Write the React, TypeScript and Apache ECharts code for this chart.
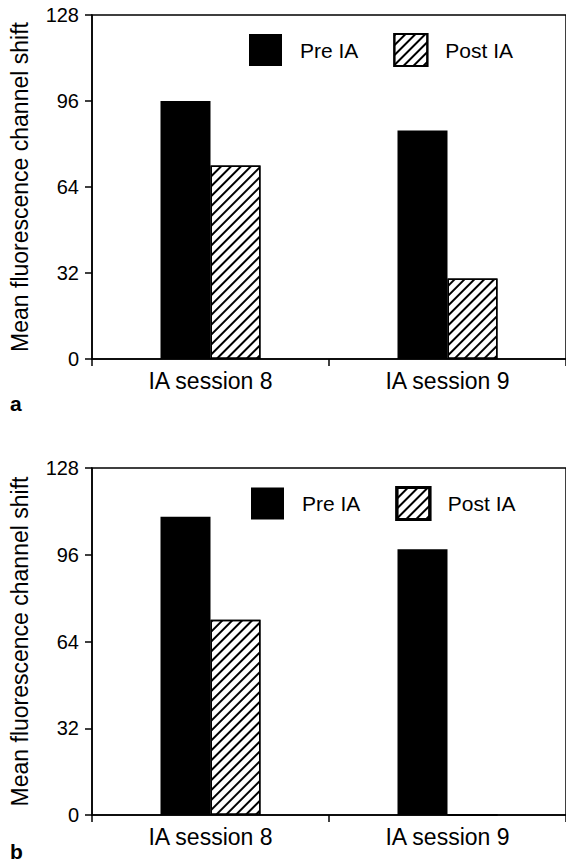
import React, { useEffect, useRef } from "react";
import * as echarts from "echarts";

const categories = ["IA session 8", "IA session 9"];
const preA = [96, 85];
const postA = [72, 30];
const preB = [110, 98];
const postB = [72, 0];
const yTicks = { min: 0, max: 128, interval: 32 };
const seriesNames = ["Pre IA", "Post IA"];
const yTitle = "Mean fluorescence channel shift";

const FONT = "Liberation Sans";

export default function App() {
  const ref = useRef<HTMLDivElement>(null);
  useEffect(() => {
    if (!ref.current) return;
    const chart = echarts.init(ref.current, null, { renderer: "svg" });
    const hatch = {
      symbol: "rect",
      symbolSize: 1,
      color: "#000",
      backgroundColor: "#fff",
      dashArrayX: [1, 0],
      dashArrayY: [1.4, 5],
      rotation: -Math.PI / 4,
    };
    const grids = [
      { left: 92, top: 15, width: 477, height: 344 },
      { left: 92, top: 468, width: 477, height: 347 },
    ].map((g) => ({ ...g, show: true, borderColor: "#000", borderWidth: 1.5, backgroundColor: "transparent" }));
    const xAxis = [0, 1].map((i) => ({
      type: "category",
      gridIndex: i,
      data: categories,
      axisLine: { lineStyle: { color: "#000", width: 1.5 } },
      axisTick: { show: true, length: 7, lineStyle: { color: "#000", width: 1.5 } },
      axisLabel: { color: "#000", fontSize: 23, fontFamily: FONT, margin: 10 },
    }));
    const yAxis = [0, 1].map((i) => ({
      type: "value",
      gridIndex: i,
      min: yTicks.min,
      max: yTicks.max,
      interval: yTicks.interval,
      name: yTitle,
      nameLocation: "middle",
      nameGap: 61,
      nameTextStyle: { color: "#000", fontSize: 23, fontFamily: FONT },
      axisLine: { show: true, lineStyle: { color: "#000", width: 1.5 } },
      axisTick: { show: true, length: 7, lineStyle: { color: "#000", width: 1.5 } },
      axisLabel: { color: "#000", fontSize: 20, fontFamily: FONT, margin: 13 },
      splitLine: { show: false },
    }));
    const mk = (i: number, pre: number[], post: number[]) => [
      {
        name: seriesNames[0],
        type: "bar",
        xAxisIndex: i,
        yAxisIndex: i,
        data: pre,
        barWidth: 50,
        barGap: "0%",
        itemStyle: { color: "#000" },
      },
      {
        name: seriesNames[1],
        type: "bar",
        xAxisIndex: i,
        yAxisIndex: i,
        data: post,
        barWidth: 50,
        barGap: "0%",
        itemStyle: { color: "#fff", borderColor: "#000", borderWidth: 1.5, decal: hatch },
      },
    ];
    const legendBase = {
      orient: "horizontal",
      padding: 0,
      itemWidth: 33,
      itemHeight: 32,
      itemGap: 35,
      icon: "rect",
      selectedMode: false,
      textStyle: { color: "#000", fontSize: 21, fontFamily: FONT, padding: [0, 0, 0, 13] },
    };
    chart.setOption({
      animation: false,
      grid: grids,
      xAxis,
      yAxis,
      legend: [
        { ...legendBase, left: 249, top: 33, data: [{ name: seriesNames[0] }, { name: seriesNames[1] }] },
        {
          ...legendBase,
          left: 251,
          top: 486,
          data: [{ name: seriesNames[0] }, { name: seriesNames[1], itemStyle: { borderWidth: 3 } }],
        },
      ],
      series: [...mk(0, preA, postA), ...mk(1, preB, postB)],
      graphic: [
        { type: "text", left: 10, top: 393, style: { text: "a", font: `bold 21px ${FONT}`, fill: "#000" } },
        { type: "text", left: 10, top: 841, style: { text: "b", font: `bold 21px ${FONT}`, fill: "#000" } },
      ],
    });
    return () => chart.dispose();
  }, []);
  return (
    <div
      ref={ref}
      style={{ position: "absolute", left: 0, top: 0, width: 566, height: 862, background: "#fff" }}
    />
  );
}
